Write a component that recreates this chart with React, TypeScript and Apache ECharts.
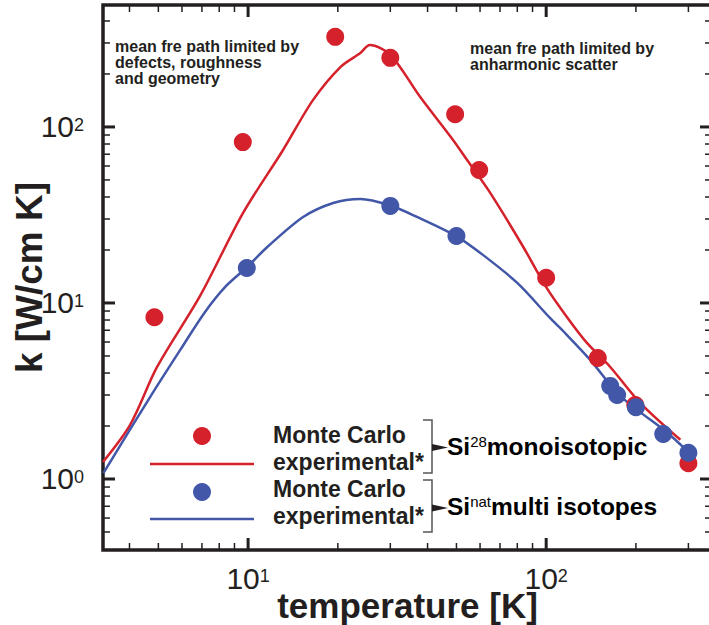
import React, { useEffect, useRef } from "react";
import * as echarts from "echarts";

// ---------- data ----------
const xRange = [3.26, 360];
const yRange = [0.395, 493];

// Monte Carlo, Si28 monoisotopic (red dots)
const mcSi28T = [4.85, 9.6, 19.6, 30, 49.5, 59.6, 100, 149, 199, 300];
const mcSi28K = [8.3, 82, 325, 247, 118, 57, 13.9, 4.87, 2.63, 1.23];
// Monte Carlo, Si nat (blue dots)
const mcNatT = [9.9, 30, 50, 164, 173, 200, 247, 300];
const mcNatK = [15.8, 35.6, 24, 3.38, 3.0, 2.56, 1.8, 1.41];
// experimental Si28 (red line)
const expSi28T = [3.26, 4.02, 4.95, 6.9, 9.62, 13.1, 16.5, 20.4, 23.8, 25.6, 30, 37.8, 48.7, 54.3, 64.9, 83.8, 100, 117.5, 137, 164, 207, 282];
const expSi28K = [1.25, 2.03, 4.33, 10.96, 32.5, 74, 142, 219, 263, 292, 257, 148, 84.4, 64.9, 42.2, 20.8, 12.3, 8.3, 5.93, 4.33, 2.7, 1.67];
// experimental Si nat (blue line)
const expNatT = [3.27, 4.69, 5.92, 7.17, 8.44, 9.92, 11.6, 15.3, 19.3, 23.8, 29.7, 36.9, 49.9, 61.5, 80, 103, 114, 140.5, 173, 202, 255, 300];
const expNatK = [1.08, 2.92, 5.41, 8.89, 12.5, 16.0, 20.8, 30.8, 37.0, 39.0, 36.0, 30.8, 24.0, 18.7, 13.0, 8.22, 6.93, 4.75, 3.08, 2.47, 1.83, 1.42];

const xMajorTicks = [10, 100];
const xMinorTicks = [4, 5, 6, 7, 8, 9, 20, 30, 40, 50, 60, 70, 80, 90, 200, 300];
const yMajorTicks = [1, 10, 100];
const yMinorTicks = [0.5, 0.6, 0.7, 0.8, 0.9, 2, 3, 4, 5, 6, 7, 8, 9, 20, 30, 40, 50, 60, 70, 80, 90, 200, 300, 400];

const xAxisTitle = "temperature [K]";
const yAxisTitle = "k [W/cm K]";
const noteLeft = "mean fre path limited by\ndefects, roughness\nand geometry";
const noteRight = "mean fre path limited by\nanharmonic scatter";
const legendMC = "Monte Carlo";
const legendExp = "experimental*";

// ---------- style ----------
const RED = "#d5212b";
const BLUE = "#4357a9";
const INK = "#231f20";
const FONT = "'Liberation Sans', Arial, Helvetica, sans-serif";

const zip = (a: number[], b: number[]) => a.map((v, i) => [v, b[i]]);

const labelFormatter = (v: number) => {
  const l = Math.log10(v);
  const e = Math.round(l);
  if (Math.abs(l - e) > 0.01) return "";
  return `{b|10}{s|${e}}`;
};

const labelRich = {
  b: { fontFamily: FONT, fontSize: 30, lineHeight: 22, color: INK },
  s: { fontFamily: FONT, fontSize: 18, lineHeight: 18, verticalAlign: "top", color: INK },
};

export default function App() {
  const ref = useRef<HTMLDivElement>(null);

  useEffect(() => {
    if (!ref.current) return;
    const chart = echarts.init(ref.current, null, { renderer: "svg" });

    const option: any = {
      animation: false,
      grid: {
        left: 103,
        top: 5,
        right: -3,
        bottom: 75,
        show: true,
        borderColor: INK,
        borderWidth: 3.5,
        backgroundColor: "transparent",
        containLabel: false,
        outerBoundsMode: "none",
      },
      xAxis: {
        type: "log",
        logBase: 10,
        min: xRange[0],
        max: xRange[1],
        axisLine: { show: false },
        axisTick: { show: false },
        splitLine: { show: false },
        axisLabel: {
          showMinLabel: false,
          showMaxLabel: false,
          margin: 17,
          formatter: labelFormatter,
          rich: labelRich,
        },
        name: xAxisTitle,
        nameLocation: "middle",
        nameGap: 39,
        nameMoveOverlap: false,
        nameTextStyle: { fontFamily: FONT, fontSize: 35, fontWeight: "bold", color: INK, lineHeight: 32 },
      },
      yAxis: {
        type: "log",
        logBase: 10,
        min: yRange[0],
        max: yRange[1],
        axisLine: { show: false },
        axisTick: { show: false },
        splitLine: { show: false },
        axisLabel: {
          showMinLabel: false,
          showMaxLabel: false,
          margin: 19,
          formatter: labelFormatter,
          rich: labelRich,
        },
        name: yAxisTitle,
        nameLocation: "middle",
        nameGap: 54,
        nameMoveOverlap: false,
        nameTextStyle: { fontFamily: FONT, fontSize: 37, fontWeight: "bold", color: INK, lineHeight: 40 },
      },
      series: [
        {
          name: "experimental* Si28",
          type: "line",
          data: zip(expSi28T, expSi28K),
          showSymbol: false,
          symbol: "none",
          smooth: 0.3,
          lineStyle: { color: RED, width: 2.5 },
          z: 2,
        },
        {
          name: "experimental* Sinat",
          type: "line",
          data: zip(expNatT, expNatK),
          showSymbol: false,
          symbol: "none",
          smooth: 0.3,
          lineStyle: { color: BLUE, width: 2.5 },
          z: 2,
        },
        {
          name: "Monte Carlo Si28",
          type: "scatter",
          data: zip(mcSi28T, mcSi28K),
          symbolSize: 18,
          itemStyle: { color: RED, opacity: 1 },
          z: 3,
        },
        {
          name: "Monte Carlo Sinat",
          type: "scatter",
          data: zip(mcNatT, mcNatK),
          symbolSize: 18,
          itemStyle: { color: BLUE, opacity: 1 },
          z: 4,
        },
      ],
    };
    chart.setOption(option);

    const px = (v: number) => chart.convertToPixel({ xAxisIndex: 0 }, v) as number;
    const py = (v: number) => chart.convertToPixel({ yAxisIndex: 0 }, v) as number;
    const L = px(xRange[0]);
    const R = px(xRange[1]);
    const B = py(yRange[0]);
    const T = py(yRange[1]);

    const tick = (x1: number, y1: number, x2: number, y2: number, w: number) => ({
      type: "line",
      silent: true,
      z: 10,
      shape: { x1, y1, x2, y2 },
      style: { stroke: INK, lineWidth: w },
    });

    const graphics: any[] = [];
    xMajorTicks.forEach((v) => {
      const x = px(v);
      graphics.push(tick(x, B, x, B - 12, 3));
      graphics.push(tick(x, T, x, T + 12, 3));
    });
    xMinorTicks.forEach((v) => {
      const x = px(v);
      graphics.push(tick(x, B, x, B - 7, 1.5));
      graphics.push(tick(x, T, x, T + 7, 1.5));
    });
    yMajorTicks.forEach((v) => {
      const y = py(v);
      graphics.push(tick(L, y, L + 12, y, 3));
      graphics.push(tick(R, y, R - 12, y, 3));
    });
    yMinorTicks.forEach((v) => {
      const y = py(v);
      graphics.push(tick(L, y, L + 7, y, 1.5));
      graphics.push(tick(R, y, R - 7, y, 1.5));
    });

    const noteStyle = {
      fontFamily: FONT,
      fontSize: 16,
      fontWeight: "bold",
      lineHeight: 16,
      fill: INK,
      align: "left",
      verticalAlign: "top",
    };
    graphics.push({ type: "text", x: 115, y: 38.5, z: 20, style: { ...noteStyle, text: noteLeft } });
    graphics.push({ type: "text", x: 470, y: 40.5, z: 20, style: { ...noteStyle, text: noteRight } });

    // legend
    const legStyle = {
      fontFamily: FONT,
      fontSize: 23,
      fontWeight: "bold",
      lineHeight: 27,
      fill: INK,
      align: "left",
      verticalAlign: "top",
    };
    graphics.push({ type: "circle", z: 20, shape: { cx: 202, cy: 436, r: 9 }, style: { fill: RED } });
    graphics.push({ type: "line", z: 20, shape: { x1: 150, y1: 464, x2: 254, y2: 464 }, style: { stroke: RED, lineWidth: 2.5 } });
    graphics.push({ type: "circle", z: 20, shape: { cx: 202, cy: 492, r: 9 }, style: { fill: BLUE } });
    graphics.push({ type: "line", z: 20, shape: { x1: 150, y1: 519, x2: 254, y2: 519 }, style: { stroke: BLUE, lineWidth: 2.5 } });
    graphics.push({ type: "text", x: 273, y: 421.5, z: 20, style: { ...legStyle, text: legendMC + "\n" + legendExp } });
    graphics.push({ type: "text", x: 273, y: 475.5, z: 20, style: { ...legStyle, text: legendMC + "\n" + legendExp } });

    // brackets + pointers
    graphics.push({
      type: "polyline", z: 20,
      shape: { points: [[423, 420], [432, 420], [432, 473], [423, 473]] },
      style: { stroke: "#555", lineWidth: 1.5, fill: null },
    });
    graphics.push({
      type: "polyline", z: 20,
      shape: { points: [[423, 480], [432, 480], [432, 532], [423, 532]] },
      style: { stroke: "#555", lineWidth: 1.5, fill: null },
    });
    graphics.push({ type: "polygon", z: 20, shape: { points: [[432, 444], [448, 447.5], [432, 451]] }, style: { fill: INK } });
    graphics.push({ type: "polygon", z: 20, shape: { points: [[432, 504.5], [448, 508], [432, 511.5]] }, style: { fill: INK } });

    const siRich = {
      a: { fontFamily: FONT, fontSize: 24.5, fontWeight: "bold", lineHeight: 26, color: INK },
      b: { fontFamily: FONT, fontSize: 15, lineHeight: 16, verticalAlign: "top", color: INK },
    };
    graphics.push({
      type: "text", x: 447, y: 433.5, z: 20,
      style: { text: "{a|Si}{b|28}{a|monoisotopic}", rich: siRich, verticalAlign: "top", align: "left" },
    });
    graphics.push({
      type: "text", x: 447, y: 493.5, z: 20,
      style: { text: "{a|Si}{b|nat}{a|multi isotopes}", rich: siRich, verticalAlign: "top", align: "left" },
    });

    chart.setOption({ graphic: graphics });

    return () => chart.dispose();
  }, []);

  return (
    <div
      ref={ref}
      style={{ position: "absolute", left: 0, top: 0, width: 709, height: 625, background: "#fff" }}
    />
  );
}
